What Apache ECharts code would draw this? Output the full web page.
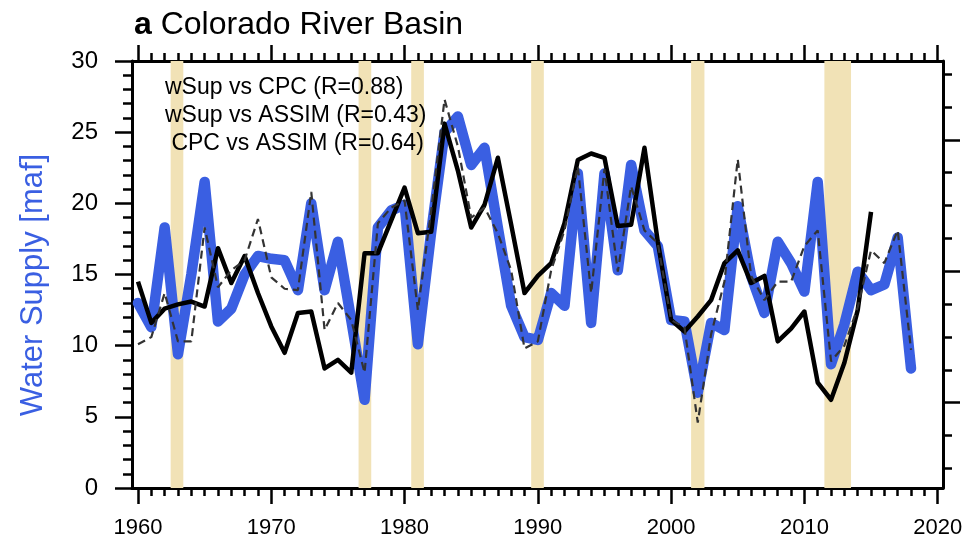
<!DOCTYPE html>
<html><head><meta charset="utf-8">
<script src="https://cdn.jsdelivr.net/npm/echarts@6/dist/echarts.min.js"></script>
<style>html,body{margin:0;padding:0;background:#fff}#c{width:969px;height:548px}</style>
</head><body><div id="c"></div>
<script>
// ---- data ----
const years = [1960,1961,1962,1963,1964,1965,1966,1967,1968,1969,
  1970,1971,1972,1973,1974,1975,1976,1977,1978,1979,
  1980,1981,1982,1983,1984,1985,1986,1987,1988,1989,
  1990,1991,1992,1993,1994,1995,1996,1997,1998,1999,
  2000,2001,2002,2003,2004,2005,2006,2007,2008,2009,
  2010,2011,2012,2013,2014,2015,2016,2017,2018];
const wSup = [13.0,11.3,18.3,9.4,15.0,21.5,11.7,12.6,15.0,16.3,
  16.1,16.0,13.9,20.0,13.9,17.3,11.8,6.2,18.3,19.5,
  19.9,10.1,18.0,25.0,26.1,22.7,23.9,18.3,12.8,10.6,
  10.4,13.7,12.8,22.1,11.6,22.1,15.3,22.7,18.1,17.0,
  11.8,11.7,6.7,11.6,11.1,19.8,14.9,12.3,17.3,15.8,
  13.8,21.5,8.7,11.5,15.2,13.9,14.3,17.6,8.4];
const assim = [14.5,11.6,12.6,12.9,13.1,12.75,16.85,14.4,16.3,13.7,
  11.35,9.5,12.3,12.4,8.4,9.0,8.1,16.5,16.5,18.8,
  21.1,17.9,18.0,25.6,22.3,18.3,19.9,23.2,18.5,13.7,
  14.9,15.8,18.6,23.05,23.5,23.2,18.4,18.5,23.9,17.3,
  11.8,11.0,12.05,13.2,15.8,16.7,14.4,14.9,10.3,11.2,
  12.4,7.4,6.2,8.8,12.5,19.4];
const cpc = [10.1,10.6,13.7,10.3,10.3,18.3,14.1,15.3,16.0,18.9,
  14.8,14.0,13.9,20.8,11.1,13.0,11.8,8.1,18.6,19.7,
  20.2,12.5,19.5,27.3,24.0,19.0,19.7,17.9,15.3,9.8,
  10.3,15.3,18.1,22.6,13.7,22.4,15.2,21.2,18.1,17.2,
  11.8,11.3,4.6,10.8,14.5,23.1,14.9,13.2,14.5,14.5,
  17.0,18.1,8.9,10.0,12.7,16.7,15.8,18.1,9.7];
const droughtStart = [1962.45, 1976.55, 1980.5, 1989.5, 2001.5, 2011.5];
const droughtEnd   = [1963.4, 1977.5, 1981.45, 1990.45, 2002.5, 2013.5];
const xMajor = [1960,1970,1980,1990,2000,2010,2020];
const yMajor = [0,5,10,15,20,25,30];
const corrLines = ['wSup vs CPC (R=0.88)', 'wSup vs ASSIM (R=0.43)', ' CPC vs ASSIM (R=0.64)'];

// ---- build ----
const xMinor = []; for (let y = 1960; y <= 2020; y++) xMinor.push(y);
const yMinor = []; for (let v = 0; v <= 30; v++) yMinor.push(v);
const rMajor = [2,6,10];
const rMinor = []; for (let v = 0; v <= 12; v++) rMinor.push(v);

const FONT = '"Liberation Sans", Arial, Helvetica, sans-serif';
const BLUE = '#3a5fe2';
const XMIN = 1959.55, XMAX = 2020.4;

function xAx(pos, ticks, len, lbl, line) {
  return {
    type: 'value', position: pos, min: XMIN, max: XMAX,
    axisLine: {show: line, onZero: false, lineStyle: {color: '#000', width: 3}},
    axisTick: {show: true, inside: false, length: len, customValues: ticks, lineStyle: {color: '#000', width: 2.5}},
    axisLabel: lbl ? {show: true, customValues: ticks, color: '#000', fontSize: 22, fontFamily: FONT, margin: 29,
      formatter: v => String(Math.round(v))} : {show: false},
    splitLine: {show: false}, minorTick: {show: false}
  };
}
function yAx(pos, min, max, ticks, len, lbl, line) {
  return {
    type: 'value', position: pos, min: min, max: max,
    axisLine: {show: line, onZero: false, lineStyle: {color: '#000', width: 3}},
    axisTick: {show: true, inside: false, length: len, customValues: ticks, lineStyle: {color: '#000', width: 2.5}},
    axisLabel: lbl ? {show: true, customValues: ticks, color: '#000', fontSize: 24, fontFamily: FONT, margin: 34,
      formatter: v => String(Math.round(v))} : {show: false},
    splitLine: {show: false}, minorTick: {show: false}
  };
}

const chart = echarts.init(document.getElementById('c'), null, {renderer: 'canvas'});
chart.setOption({
  animation: false,
  backgroundColor: '#fff',
  title: {
    text: '{b|a} Colorado River Basin', left: 129, top: 4,
    textStyle: {fontSize: 32, fontWeight: 'normal', color: '#000', fontFamily: FONT,
      rich: {b: {fontSize: 32, fontWeight: 'bold', color: '#000', fontFamily: FONT}}}
  },
  grid: {left: 132, right: 26, top: 61, bottom: 60, show: false},
  xAxis: [
    xAx('bottom', xMajor, 16, true, true),
    xAx('bottom', xMinor, 8, false, false),
    xAx('top', xMajor, 16, false, true),
    xAx('top', xMinor, 8, false, false)
  ],
  yAxis: [
    yAx('left', 0, 30, yMajor, 17, true, true),
    yAx('left', 0, 30, yMinor, 9, false, false),
    yAx('right', -0.6, 12.4, rMajor, 17, false, true),
    yAx('right', -0.6, 12.4, rMinor, 9, false, false)
  ],
  graphic: [
    {
      type: 'text', x: 33, y: 285, rotation: Math.PI / 2, z: 50,
      style: {text: 'Water Supply [maf]', fill: BLUE, font: '31px ' + FONT, align: 'center', verticalAlign: 'middle'}
    }
  ].concat(corrLines.map((t, i) => ({
    type: 'text', x: 165, y: 87.5 + i * 28, z: 50,
    style: {text: t, fill: '#000', font: '23px ' + FONT, verticalAlign: 'middle'}
  }))),
  series: [
    {
      type: 'line', name: 'drought', xAxisIndex: 0, yAxisIndex: 0, data: [], z: 1, silent: true,
      markArea: {silent: true, itemStyle: {color: '#f1e2b6'},
        data: droughtStart.map((s, i) => [{xAxis: s}, {xAxis: droughtEnd[i]}])}
    },
    {
      type: 'line', name: 'wSup', xAxisIndex: 0, yAxisIndex: 0, z: 3, symbol: 'none',
      data: years.map((y, i) => [y, wSup[i]]),
      lineStyle: {color: BLUE, width: 10.5, cap: 'round', join: 'round'}
    },
    {
      type: 'line', name: 'ASSIM', xAxisIndex: 0, yAxisIndex: 0, z: 4, symbol: 'none',
      data: assim.map((v, i) => [years[i], v]),
      lineStyle: {color: '#000', width: 4.5, join: 'round'}
    },
    {
      type: 'line', name: 'CPC', xAxisIndex: 0, yAxisIndex: 0, z: 5, symbol: 'none',
      data: years.map((y, i) => [y, cpc[i]]),
      lineStyle: {color: '#333', width: 2.2, type: [8, 5]}
    }
  ]
});
</script></body></html>
